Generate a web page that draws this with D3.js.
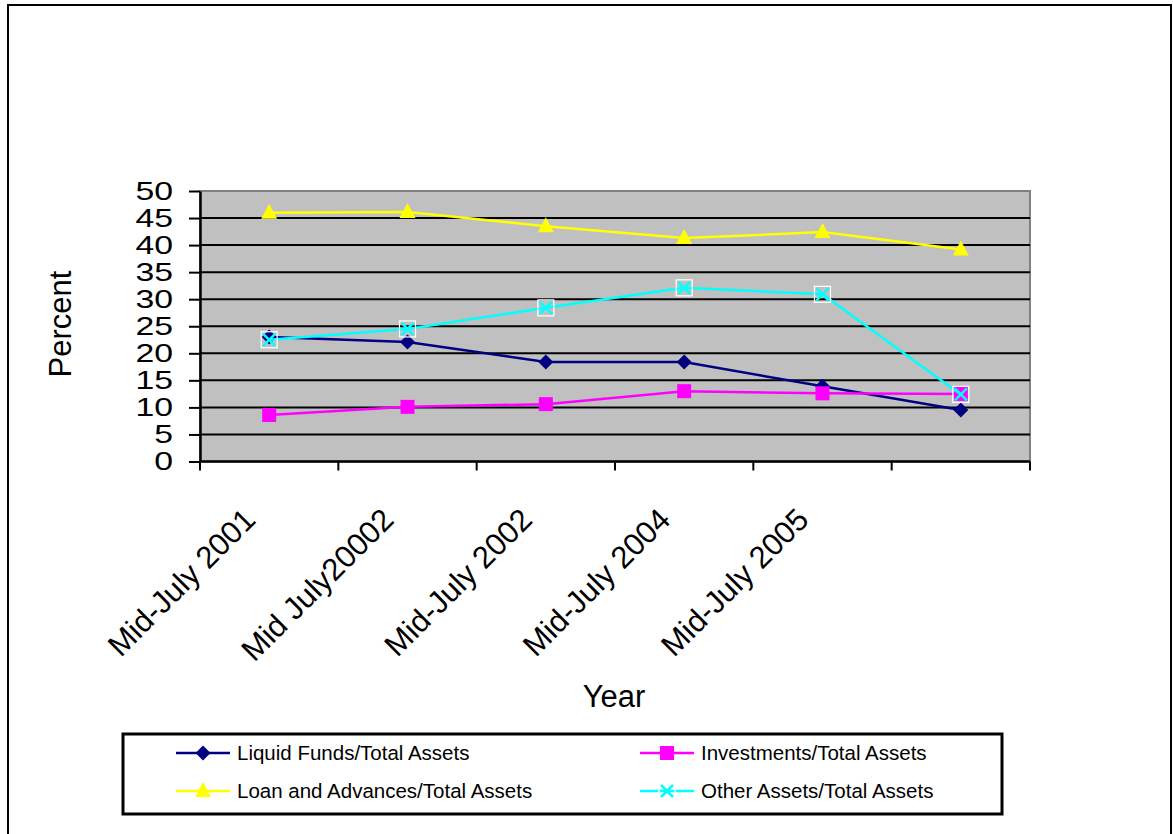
<!DOCTYPE html>
<html>
<head>
<meta charset="utf-8">
<script src="https://cdn.jsdelivr.net/npm/d3@7/dist/d3.min.js"></script>
<style>
  html, body { margin: 0; padding: 0; background: #fff; }
  svg { display: block; font-family: "Liberation Sans", Arial, sans-serif; }
</style>
</head>
<body>
<svg id="chart" width="1173" height="834"></svg>
<script>
// Asset composition ratios (percent of total assets)
const categories = ["Mid-July 2001", "Mid July20002", "Mid-July 2002", "Mid-July 2004", "Mid-July 2005", ""];
const liquidFunds = [23.0, 22.1, 18.4, 18.4, 13.9, 9.5];
const investments = [8.6, 10.1, 10.6, 13.0, 12.6, 12.5];
const loansAdvances = [46.0, 46.1, 43.5, 41.3, 42.4, 39.2];
const otherAssets = [22.5, 24.5, 28.4, 32.1, 30.9, 12.4];
const yTicks = [0, 5, 10, 15, 20, 25, 30, 35, 40, 45, 50];

const series = [
  { name: "Liquid Funds/Total Assets", values: liquidFunds, color: "#000080", marker: "diamond" },
  { name: "Investments/Total Assets", values: investments, color: "#FF00FF", marker: "square" },
  { name: "Loan and Advances/Total Assets", values: loansAdvances, color: "#FFFF00", marker: "triangle" },
  { name: "Other Assets/Total Assets", values: otherAssets, color: "#00FFFF", marker: "x" }
];

const svg = d3.select("#chart");
const plot = { left: 200, right: 1030, top: 191, bottom: 461.5 };

// outer chart frame
svg.append("rect")
  .attr("x", 8).attr("y", 5).attr("width", 1163).attr("height", 840)
  .attr("fill", "#fff").attr("stroke", "#000").attr("stroke-width", 2);

const x = d3.scaleBand().domain(d3.range(categories.length)).range([plot.left, plot.right]);
const y = d3.scaleLinear().domain([0, 50]).range([plot.bottom, plot.top]);
const cx = i => x(i) + x.bandwidth() / 2;

// plot area background
svg.append("rect")
  .attr("x", plot.left).attr("y", plot.top)
  .attr("width", plot.right - plot.left).attr("height", plot.bottom - plot.top)
  .attr("fill", "#C0C0C0").attr("stroke", "#808080").attr("stroke-width", 2);

// horizontal gridlines
svg.append("g").selectAll("line").data(yTicks.filter(t => t > 0 && t < 50)).join("line")
  .attr("x1", plot.left).attr("x2", plot.right)
  .attr("y1", d => y(d)).attr("y2", d => y(d))
  .attr("stroke", "#000").attr("stroke-width", 2);

// y axis; tick labels use a wide face (horizontally stretched glyphs)
const labelStretch = 1.3;
const yAxis = svg.append("g").attr("transform", `translate(${plot.left},0)`)
  .call(d3.axisLeft(y).tickValues(yTicks).tickSize(11).tickPadding(16).tickSizeOuter(0));
yAxis.select(".domain").attr("stroke", "#000").attr("stroke-width", 2.5);
yAxis.selectAll(".tick line").attr("stroke", "#000").attr("stroke-width", 2);
yAxis.selectAll(".tick text")
  .attr("font-size", 26).attr("fill", "#000")
  .attr("font-family", "'Liberation Sans', Arial, sans-serif")
  .attr("x", -27 / labelStretch)
  .attr("transform", `scale(${labelStretch},1)`);

// x axis: ticks at category boundaries
const xAxis = svg.append("g").attr("transform", `translate(0,${plot.bottom})`);
xAxis.append("line")
  .attr("x1", plot.left).attr("x2", plot.right).attr("y1", 0).attr("y2", 0)
  .attr("stroke", "#000").attr("stroke-width", 2.5);
const boundaries = d3.range(categories.length + 1).map(i => i < categories.length ? x(i) : plot.right);
xAxis.selectAll("line.tk").data(boundaries).join("line").attr("class", "tk")
  .attr("x1", d => d).attr("x2", d => d).attr("y1", 0).attr("y2", 9)
  .attr("stroke", "#000").attr("stroke-width", 2);
xAxis.selectAll("text").data(categories).join("text")
  .attr("transform", (d, i) => `translate(${cx(i) - 12},${60}) rotate(-45)`)
  .attr("text-anchor", "end")
  .attr("font-size", 31).attr("fill", "#000")
  .text(d => d);

// axis titles
svg.append("text")
  .attr("transform", `translate(71,324) rotate(-90)`)
  .attr("text-anchor", "middle").attr("font-size", 31).attr("fill", "#000")
  .text("Percent");
svg.append("text")
  .attr("x", 614).attr("y", 707)
  .attr("text-anchor", "middle").attr("font-size", 31).attr("fill", "#000")
  .text("Year");

// marker drawing
function drawMarker(g, type, color) {
  if (type === "diamond") {
    g.append("path").attr("d", "M0,-7.5L7.5,0L0,7.5L-7.5,0Z").attr("fill", color);
  } else if (type === "square") {
    g.append("rect").attr("x", -7).attr("y", -7).attr("width", 14).attr("height", 14).attr("fill", color);
  } else if (type === "triangle") {
    g.append("path").attr("d", "M0,-9L8,6L-8,6Z").attr("fill", color);
  } else if (type === "x") {
    g.append("rect").attr("x", -8).attr("y", -8).attr("width", 16).attr("height", 16)
      .attr("fill", "none").attr("stroke", "#fff").attr("stroke-width", 1.2);
    g.append("path").attr("d", "M-6,-6L6,6M-6,6L6,-6").attr("stroke", color).attr("stroke-width", 2.5);
  }
}

const line = d3.line().x((d, i) => cx(i)).y(d => y(d));

series.forEach(s => {
  const g = svg.append("g");
  g.append("path").datum(s.values)
    .attr("d", line).attr("fill", "none")
    .attr("stroke", s.color).attr("stroke-width", 2.5);
  s.values.forEach((v, i) => {
    drawMarker(g.append("g").attr("transform", `translate(${cx(i)},${y(v)})`), s.marker, s.color);
  });
});

// legend
svg.append("rect")
  .attr("x", 123).attr("y", 734).attr("width", 879).attr("height", 80)
  .attr("fill", "#fff").attr("stroke", "#000").attr("stroke-width", 3);
const legendPos = [
  { lx: 176, ty: 753 }, { lx: 640, ty: 753 },
  { lx: 176, ty: 791 }, { lx: 640, ty: 791 }
];
series.forEach((s, k) => {
  const p = legendPos[k];
  const g = svg.append("g");
  g.append("line").attr("x1", p.lx).attr("x2", p.lx + 54).attr("y1", p.ty).attr("y2", p.ty)
    .attr("stroke", s.color).attr("stroke-width", 2.5);
  drawMarker(g.append("g").attr("transform", `translate(${p.lx + 27},${p.ty})`), s.marker, s.color);
  g.append("text").attr("x", p.lx + 61).attr("y", p.ty).attr("dy", "0.35em")
    .attr("font-size", 20.5).attr("fill", "#000").text(s.name);
});
</script>
</body>
</html>
